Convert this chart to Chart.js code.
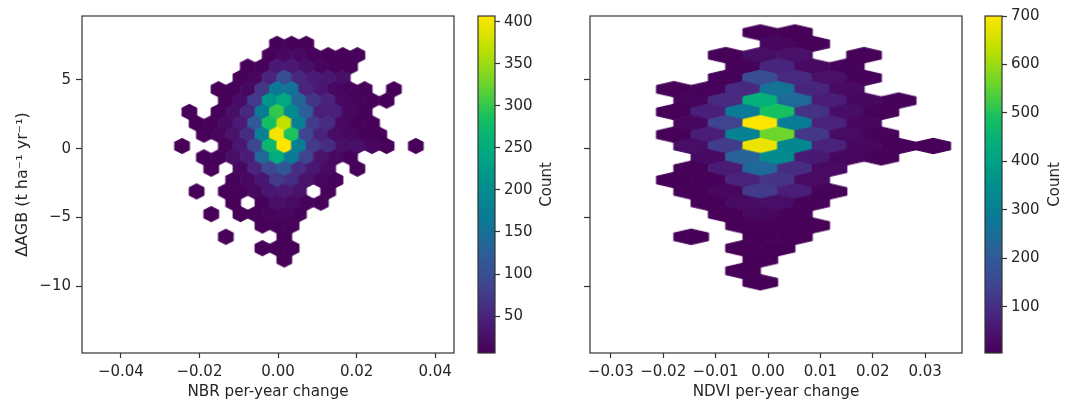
<!DOCTYPE html>
<html>
<head>
<meta charset="utf-8">
<title>Per-year change vs biomass change</title>
<script src="https://cdn.jsdelivr.net/npm/chart.js@4/dist/chart.umd.min.js"></script>
<style>
  html, body { margin: 0; padding: 0; background: #fff; }
  #wrap { position: relative; width: 1072px; height: 411px; overflow: hidden; }
  canvas { position: absolute; top: 0; }
</style>
</head>
<body>
<div id="wrap">
  <canvas id="nbr" width="470" height="411" style="left:0"></canvas>
  <canvas id="nbrBar" width="100" height="411" style="left:470px"></canvas>
  <canvas id="ndvi" width="452" height="411" style="left:520px"></canvas>
  <canvas id="ndviBar" width="95" height="411" style="left:977px"></canvas>
</div>
<script>
// y value of each hexagon row, shared by both panels (top row first)
const agbRowY = [8.451, 7.626, 6.800, 5.975, 5.149, 4.324, 3.498, 2.673, 1.847, 1.022, 0.196, -0.630,
  -1.455, -2.281, -3.106, -3.932, -4.757, -5.583, -6.408, -7.234, -8.059, -8.885, -9.710];
const agbRowStep = 0.8255;

// NBR panel: first column of each row and the counts along it (null = empty bin)
const nbrX0 = 0.0016;
const nbrHalfStep = 0.00186;
const nbrFirstCol = [0, -1, -2, -5, -6, -9, -8, -13, -12, -11, -14, -11, -10, -7, -12, -7, -10, -3, -8, -3, 0, 0, 0];
const nbrCounts = [
  [],
  [8, 9, 7],
  [8, 15, 18, 9, 7, 7, 7],
  [7, 10, 38, 38, 25, 12, 9, 7],
  [7, 14, 50, 100, 55, 42, 36, 25],
  [7, 9, 15, 72, 165, 155, 50, 35, 15, 10, 8, null, 7],
  [7, 22, 75, 215, 245, 135, 70, 50, 15, 12, 9, 7],
  [7, null, 7, 25, 55, 170, 300, 200, 125, 45, 45, 15, 8],
  [6, 8, 18, 40, 120, 285, 370, 175, 75, 60, 15, 8, 7],
  [7, 12, 30, 60, 180, 400, 290, 90, 50, 22, 15, 10, 7],
  [6, null, null, 10, 35, 90, 270, 407, 175, 75, 60, 25, 25, 14, 7, null, 7],
  [7, 10, 25, 42, 140, 250, 170, 85, 30, 18, 9],
  [7, null, 15, 50, 90, 115, 60, 35, 18, null, 7],
  [8, 18, 35, 75, 60, 30, 14, 9],
  [7, null, 7, 10, 18, 35, 40, 30, null, 8],
  [7, null, 10, 25, 20, 10, 7],
  [7, null, 7, 8, 12, 14, 9],
  [7, 9, 8],
  [7, null, null, null, 7],
  [7, 7, 7],
  [7],
  [],
  []
];

// NDVI panel, same row layout
const ndviX0 = -0.00147;
const ndviHalfStep = 0.0033;
const ndviFirstCol = [0, 1, -2, -1, -2, -5, -4, -5, -4, -5, -4, -3, -4, -5, -4, -3, -2, -1, -4, -1, 0, -1, 0];
const ndviCounts = [
  [8, 7],
  [20, 10],
  [7, 35, 42, null, 7],
  [10, 85, 25, 12],
  [12, 165, 95, 40, 12],
  [8, 12, 95, 265, 85, 28],
  [15, 95, 440, 240, 70, 22, 9],
  [8, 75, 285, 490, 110, 35, 9],
  [20, 140, 700, 290, 80, 18],
  [8, 70, 310, 560, 120, 30, 10],
  [35, 130, 680, 325, 80, 22, 8, 7],
  [25, 220, 340, 62, 20, 9],
  [8, 65, 240, 100, 28],
  [6, 12, 82, 115, 28],
  [7, 18, 125, 70, 10],
  [7, 30, 35, 10],
  [7, 22, 10],
  [7, 8, 7],
  [6, null, 6, 7],
  [6, 6],
  [6],
  [6],
  [6]
];

const nbrXTicks = [-0.04, -0.02, 0, 0.02, 0.04];
const ndviXTicks = [-0.03, -0.02, -0.01, 0, 0.01, 0.02, 0.03];
const agbTicks = [5, 0, -5, -10];
const nbrBarTicks = [50, 100, 150, 200, 250, 300, 350, 400];
const ndviBarTicks = [100, 200, 300, 400, 500, 600, 700];
const nbrRange = [6, 407];
const ndviRange = [5, 700];

// viridis, pushed a little towards full saturation
const viridis = ['#470058', '#4a1f7a', '#3f4590', '#2b5f98', '#0a7a96', '#008f8c', '#00aa80', '#15c060', '#6ed52a', '#bce000', '#ffe600'];
const FONT = { family: '"DejaVu Sans", sans-serif', size: 15 };
const INK = '#262626';
const SPINE = '#333';

Chart.defaults.animation = false;
Chart.defaults.events = [];
Chart.defaults.font.family = FONT.family;
Chart.defaults.font.size = FONT.size;
Chart.defaults.color = INK;

function colorFor(t) {
  const pos = Math.min(Math.max(t, 0), 1) * (viridis.length - 1);
  const i = Math.min(Math.floor(pos), viridis.length - 2);
  const f = pos - i;
  const rgb = (hex) => [1, 3, 5].map((k) => parseInt(hex.slice(k, k + 2), 16));
  const a = rgb(viridis[i]);
  const b = rgb(viridis[i + 1]);
  return `rgb(${a.map((v, k) => Math.round(v + (b[k] - v) * f)).join(',')})`;
}

// rows -> {x, y, count} points
function hexPoints(firstCol, counts, x0, halfStep) {
  const points = [];
  counts.forEach((row, r) => {
    row.forEach((count, i) => {
      if (count !== null) {
        points.push({ x: x0 + halfStep * (firstCol[r] + i * 2), y: agbRowY[r], count });
      }
    });
  });
  return points;
}

// four spines around the plot area
const frame = {
  id: 'frame',
  afterDraw(chart) {
    const { left, top, width, height } = chart.chartArea;
    const ctx = chart.ctx;
    ctx.save();
    ctx.strokeStyle = SPINE;
    ctx.lineWidth = 1.2;
    ctx.strokeRect(left, top, width, height);
    ctx.restore();
  },
};

// colorbar label reads bottom to top, the scale title on a right axis would not
const barLabel = {
  id: 'barLabel',
  afterDraw(chart, args, opts) {
    const ctx = chart.ctx;
    ctx.save();
    ctx.translate(opts.x, (chart.chartArea.top + chart.chartArea.bottom) / 2);
    ctx.rotate(-Math.PI / 2);
    ctx.font = `${FONT.size}px ${FONT.family}`;
    ctx.fillStyle = INK;
    ctx.textAlign = 'center';
    ctx.textBaseline = 'middle';
    ctx.fillText(opts.text, 0, 0);
    ctx.restore();
  },
};

function hexPanel(id, points, cfg) {
  const sprites = new Map();
  // hexagon sprite sized from the scales, one per count
  const sprite = (chart, count) => {
    if (sprites.has(count)) return sprites.get(count);
    const { x, y } = chart.scales;
    const halfW = Math.abs(x.getPixelForValue(cfg.halfStep) - x.getPixelForValue(0));
    const side = Math.abs(y.getPixelForValue(agbRowStep) - y.getPixelForValue(0)) * 2 / 3;
    // scales have no pixel size yet on the first pass through the options
    if (!(halfW > 0) || !(side > 0)) return 'circle';
    const c = document.createElement('canvas');
    c.width = Math.ceil(halfW * 2 + 6);
    c.height = Math.ceil(side * 2 + 6);
    const g = c.getContext('2d');
    const color = colorFor((count - cfg.range[0]) / (cfg.range[1] - cfg.range[0]));
    g.translate(c.width / 2, c.height / 2);
    g.beginPath();
    g.moveTo(0, -side);
    g.lineTo(halfW, -side / 2);
    g.lineTo(halfW, side / 2);
    g.lineTo(0, side);
    g.lineTo(-halfW, side / 2);
    g.lineTo(-halfW, -side / 2);
    g.closePath();
    g.fillStyle = color;
    g.strokeStyle = color;
    g.lineWidth = 1.2;
    g.lineJoin = 'round';
    g.fill();
    g.stroke();
    sprites.set(count, c);
    return c;
  };

  return new Chart(document.getElementById(id), {
    type: 'scatter',
    data: {
      datasets: [{
        data: points,
        pointRadius: 8,
        pointStyle: (ctx) => (ctx.raw ? sprite(ctx.chart, ctx.raw.count) : 'circle'),
      }],
    },
    options: {
      responsive: false,
      layout: { padding: { top: 16, right: cfg.rightPad, left: 0, bottom: 0 } },
      plugins: { legend: { display: false }, tooltip: { enabled: false } },
      scales: {
        x: {
          type: 'linear',
          min: cfg.xMin,
          max: cfg.xMax,
          afterBuildTicks: (axis) => { axis.ticks = cfg.xTicks.map((value) => ({ value })); },
          afterFit: (axis) => { axis.height = 58; },
          grid: { drawOnChartArea: false, tickLength: 5, tickColor: SPINE, tickWidth: 1.2 },
          border: { display: false },
          ticks: {
            padding: 5,
            autoSkip: false,
            maxRotation: 0,
            color: INK,
            callback: (v) => v.toFixed(2).replace('-', '\u2212'),
          },
          title: { display: true, text: cfg.xTitle, color: INK, font: { size: 15.2 }, padding: { top: 0, bottom: 10 } },
        },
        y: {
          type: 'linear',
          min: -14.86,
          max: 9.65,
          afterBuildTicks: (axis) => { axis.ticks = agbTicks.map((value) => ({ value })); },
          afterFit: (axis) => { axis.width = cfg.yWidth; },
          grid: { drawOnChartArea: false, tickLength: 6, tickColor: SPINE, tickWidth: 1.2 },
          border: { display: false },
          ticks: {
            padding: 5,
            color: INK,
            callback: (v) => (cfg.yLabels ? String(v).replace('-', '\u2212') : ''),
          },
          title: { display: cfg.yLabels, text: '\u0394AGB (t ha\u207b\u00b9 yr\u207b\u00b9)', color: INK, font: { size: 16 }, padding: { top: 13, bottom: 0 } },
        },
      },
    },
    plugins: [frame],
  });
}

function colorBar(id, range, ticks, labelX) {
  return new Chart(document.getElementById(id), {
    type: 'bar',
    data: {
      labels: ['Count'],
      datasets: [{
        data: [range],
        barPercentage: 1,
        categoryPercentage: 1,
        backgroundColor: (ctx) => {
          const area = ctx.chart.chartArea;
          if (!area) return viridis[0];
          const grad = ctx.chart.ctx.createLinearGradient(0, area.bottom, 0, area.top);
          viridis.forEach((c, i) => grad.addColorStop(i / (viridis.length - 1), c));
          return grad;
        },
      }],
    },
    options: {
      responsive: false,
      layout: { padding: { top: 16, left: 8, right: 0, bottom: 58 } },
      plugins: {
        legend: { display: false },
        tooltip: { enabled: false },
        barLabel: { text: 'Count', x: labelX },
      },
      scales: {
        x: { display: false },
        y: {
          type: 'linear',
          position: 'right',
          min: range[0],
          max: range[1],
          afterBuildTicks: (axis) => { axis.ticks = ticks.map((value) => ({ value })); },
          afterFit: (axis) => { axis.width = axis.chart.width - 25; },
          grid: { drawOnChartArea: false, tickLength: 5, tickColor: SPINE, tickWidth: 1.2 },
          border: { display: false },
          ticks: { padding: 4, color: INK },
        },
      },
    },
    plugins: [frame, barLabel],
  });
}

hexPanel('nbr', hexPoints(nbrFirstCol, nbrCounts, nbrX0, nbrHalfStep), {
  range: nbrRange, halfStep: nbrHalfStep, xMin: -0.0499, xMax: 0.0448, xTicks: nbrXTicks,
  xTitle: 'NBR per-year change', yLabels: true, yWidth: 82, rightPad: 16,
});
colorBar('nbrBar', nbrRange, nbrBarTicks, 77);

hexPanel('ndvi', hexPoints(ndviFirstCol, ndviCounts, ndviX0, ndviHalfStep), {
  range: ndviRange, halfStep: ndviHalfStep, xMin: -0.03397, xMax: 0.03702, xTicks: ndviXTicks,
  xTitle: 'NDVI per-year change', yLabels: false, yWidth: 70, rightPad: 10,
});
colorBar('ndviBar', ndviRange, ndviBarTicks, 78);
</script>
</body>
</html>
